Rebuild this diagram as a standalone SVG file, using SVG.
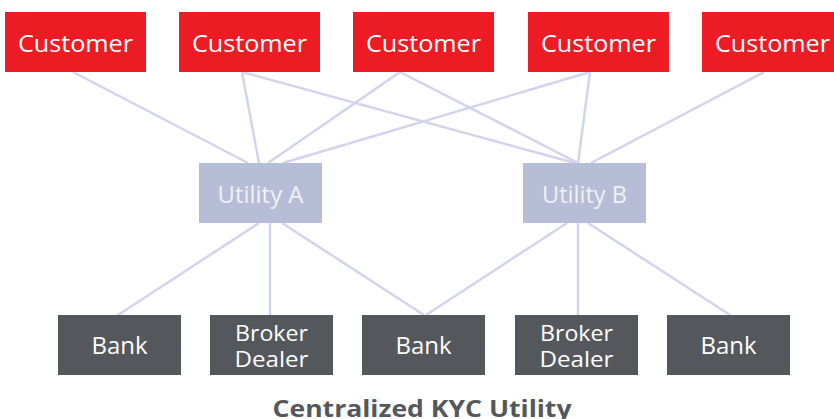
<svg xmlns="http://www.w3.org/2000/svg" width="834" height="419" viewBox="0 0 834 419">
<style>
.cust{fill:#ed1c24}
.util{fill:#b7bdd6}
.bank{fill:#54585c}
.t{font-family:"Open Sans","Liberation Sans",sans-serif;font-size:24px;text-anchor:middle;fill:#ffffff}
.bd{font-size:22px}
.tu{fill:#f0f1f7}
.title{font-family:"Open Sans","Liberation Sans",sans-serif;font-size:23px;font-weight:bold;text-anchor:middle;fill:#54585c}
.c line{stroke:#d1d4ec;stroke-width:2.5}
</style>
<rect width="834" height="419" fill="#ffffff"/>
<g class="c" id="connectors">
<line x1="73" y1="72" x2="248" y2="163"/>
<line x1="242" y1="72" x2="259" y2="163"/>
<line x1="242" y1="72" x2="575" y2="163"/>
<line x1="400" y1="72" x2="268" y2="163"/>
<line x1="400" y1="72" x2="578" y2="163"/>
<line x1="590" y1="72" x2="283" y2="163"/>
<line x1="590" y1="72" x2="578" y2="163"/>
<line x1="764" y1="72" x2="591" y2="163"/>
<line x1="259" y1="223" x2="118" y2="315"/>
<line x1="270" y1="223" x2="270" y2="315"/>
<line x1="282" y1="223" x2="424" y2="315"/>
<line x1="567" y1="223" x2="426" y2="315"/>
<line x1="578" y1="223" x2="578" y2="315"/>
<line x1="588" y1="223" x2="730" y2="315"/>
</g>
<g id="customer1"><rect class="cust" x="5" y="12" width="141" height="60"/><text class="t" x="75.5" y="52" textLength="115" lengthAdjust="spacingAndGlyphs">Customer</text></g>
<g id="customer2"><rect class="cust" x="179" y="12" width="141" height="60"/><text class="t" x="249.5" y="52" textLength="115" lengthAdjust="spacingAndGlyphs">Customer</text></g>
<g id="customer3"><rect class="cust" x="353" y="12" width="141" height="60"/><text class="t" x="423.5" y="52" textLength="115" lengthAdjust="spacingAndGlyphs">Customer</text></g>
<g id="customer4"><rect class="cust" x="528" y="12" width="141" height="60"/><text class="t" x="598.5" y="52" textLength="115" lengthAdjust="spacingAndGlyphs">Customer</text></g>
<g id="customer5"><rect class="cust" x="702" y="12" width="141" height="60"/><text class="t" x="772.5" y="52" textLength="115" lengthAdjust="spacingAndGlyphs">Customer</text></g>
<g id="utilityA"><rect class="util" x="199" y="163" width="123" height="60"/><text class="t tu" x="260.5" y="203" textLength="86" lengthAdjust="spacingAndGlyphs">Utility A</text></g>
<g id="utilityB"><rect class="util" x="523" y="163" width="123" height="60"/><text class="t tu" x="584.5" y="203" textLength="85" lengthAdjust="spacingAndGlyphs">Utility B</text></g>
<g id="bank1"><rect class="bank" x="58" y="315" width="123" height="60"/><text class="t" x="119.5" y="354">Bank</text></g>
<g id="broker1"><rect class="bank" x="210" y="315" width="123" height="60"/><text class="t bd" x="271.5" y="341" textLength="73" lengthAdjust="spacingAndGlyphs">Broker</text><text class="t bd" x="271.5" y="367" textLength="74" lengthAdjust="spacingAndGlyphs">Dealer</text></g>
<g id="bank2"><rect class="bank" x="362" y="315" width="123" height="60"/><text class="t" x="423.5" y="354">Bank</text></g>
<g id="broker2"><rect class="bank" x="515" y="315" width="123" height="60"/><text class="t bd" x="576.5" y="341" textLength="73" lengthAdjust="spacingAndGlyphs">Broker</text><text class="t bd" x="576.5" y="367" textLength="74" lengthAdjust="spacingAndGlyphs">Dealer</text></g>
<g id="bank3"><rect class="bank" x="667" y="315" width="123" height="60"/><text class="t" x="728.5" y="354">Bank</text></g>
<text class="title" x="422" y="417" textLength="299" lengthAdjust="spacingAndGlyphs">Centralized KYC Utility</text>
</svg>
